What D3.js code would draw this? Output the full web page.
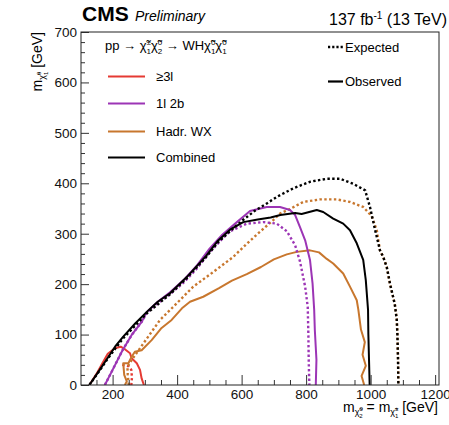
<!DOCTYPE html>
<html><head><meta charset="utf-8">
<script src="https://cdn.jsdelivr.net/npm/d3@7"></script>
<style>body{margin:0;background:#fff;} text{font-family:"Liberation Sans",Arial,sans-serif;}</style>
</head><body><svg id="c" width="449" height="425"></svg>
<script>
// ---- data (GeV) ----
const xTicks = [200, 400, 600, 800, 1000, 1200];
const yTicks = [0, 100, 200, 300, 400, 500, 600, 700];
const legendLabels = ["≥3l", "1l 2b", "Hadr. WX", "Combined"];
const seriesColors = ["#e53a33", "#9c35b5", "#c8772e", "#000000"];

const obs3l = [[128,0],[150,22],[170,45],[185,62],[207,73],[225,76],[240,70],[254,63],[259,53],[275,43],[285,30],[290,13],[297,0]];
const exp3l = [[230,40],[250,37],[258,30],[260,15],[258,0]];

const obs1l2b = [[176,0],[200,30],[230,68],[260,100],[290,125],[306,145],[340,165],[378,184],[420,208],[460,236],[500,270],[540,298],[580,320],[626,345],[678,353],[719,353],[750,347],[766,337],[781,313],[797,287],[812,248],[820,201],[825,149],[827,109],[832,50],[830,0]];
const exp1l2b = [[176,0],[200,30],[230,68],[260,100],[290,125],[306,143],[340,162],[378,180],[420,203],[460,230],[500,262],[540,290],[564,305],[616,320],[668,323],[709,320],[740,305],[766,277],[781,245],[797,195],[805,155],[807,100],[808,50],[810,0]];

const obsWX = [[238,0],[244,7],[236,20],[233,43],[249,43],[259,56],[269,66],[290,69],[321,89],[350,112],[383,129],[415,152],[440,165],[481,175],[530,192],[570,207],[616,220],[660,234],[700,249],[740,259],[771,264],[812,267],[840,263],[864,250],[884,241],[915,221],[936,195],[957,168],[962,149],[970,110],[982,85],[975,60],[985,38],[972,18],[980,0]];
const expWX = [[250,0],[247,20],[246,36],[265,55],[295,82],[347,129],[399,162],[450,195],[512,224],[574,254],[616,280],[650,300],[698,327],[719,340],[750,349],[791,363],[843,368],[895,368],[936,363],[977,353],[1003,335],[1019,307],[1029,267],[1039,254],[1050,234],[1060,201],[1075,160],[1081,130],[1083,100],[1085,50],[1086,0]];

const obsComb = [[128,0],[160,30],[187,56],[210,78],[233,96],[270,122],[306,145],[340,165],[378,182],[430,214],[490,256],[525,285],[564,308],[605,323],[650,328],[690,332],[720,337],[766,341],[786,339],[833,347],[853,343],[884,330],[915,320],[936,307],[957,281],[977,248],[985,208],[992,149],[993,100],[995,50],[997,0]];
const expComb = [[128,0],[160,29],[187,54],[233,93],[306,142],[378,180],[430,212],[490,254],[525,282],[564,305],[600,325],[640,345],[678,360],[709,373],[760,390],[812,403],[864,409],[905,409],[946,399],[983,386],[998,353],[1014,307],[1029,267],[1039,254],[1050,234],[1060,201],[1075,160],[1081,130],[1083,100],[1085,50],[1086,0]];

// ---- drawing ----
const svg = d3.select("#c");
const L = 81, R = 439, T = 32, B = 385;
const x = d3.scaleLinear().domain([102, 1212]).range([L, R]);
const y = d3.scaleLinear().domain([0, 700]).range([B, T]);

svg.append("clipPath").attr("id","clip").append("rect").attr("x",L).attr("y",T).attr("width",R-L).attr("height",B-T);

const line = d3.line().x(d => x(d[0])).y(d => y(d[1]));
const g = svg.append("g").attr("clip-path","url(#clip)");
const curves = [
  [exp3l, 0, true],[obs3l, 0, false],
  [expWX, 2, true],[obsWX, 2, false],
  [exp1l2b, 1, true],[obs1l2b, 1, false],
  [expComb, 3, true],[obsComb, 3, false]
];
curves.forEach(([d, ci, dotted]) => {
  g.append("path").attr("d", line(d)).attr("fill","none")
    .attr("stroke", seriesColors[ci])
    .attr("stroke-width", dotted ? 2.4 : 2)
    .attr("stroke-dasharray", dotted ? "2.4,2.4" : null)
    .attr("stroke-linejoin","round");
});

// axes
const minorX = d3.range(150, 1212, 50).filter(v => v % 200 !== 0);
const minorY = d3.range(0, 701, 20).filter(v => v % 100 !== 0);
function styleAxis(s){ s.select(".domain").remove(); s.selectAll("line").attr("stroke","#333"); s.selectAll("text").attr("font-size","13.5px").attr("fill","#111").style("font-family","Liberation Sans, Arial, sans-serif"); }
svg.append("g").attr("transform",`translate(0,${B})`).call(d3.axisBottom(x).tickValues(xTicks).tickSize(-10).tickPadding(4).tickFormat(d3.format("d"))).call(styleAxis);
svg.append("g").attr("transform",`translate(0,${B})`).call(d3.axisBottom(x).tickValues(minorX).tickSize(-5).tickFormat("")).call(styleAxis);
svg.append("g").attr("transform",`translate(${L},0)`).call(d3.axisLeft(y).tickValues(yTicks).tickSize(-8).tickPadding(4).tickFormat(d3.format("d"))).call(styleAxis);
svg.append("g").attr("transform",`translate(${L},0)`).call(d3.axisLeft(y).tickValues(minorY).tickSize(-4).tickFormat("")).call(styleAxis);
svg.append("rect").attr("x",L).attr("y",T).attr("width",R-L).attr("height",B-T).attr("fill","none").attr("stroke","#222").attr("stroke-width",1);

// rich text helper: parts = [text, fontSize|null, baselineOffset, dx]
function rich(t, parts) {
  let cur = 0;
  parts.forEach(([s, fs, off, dx]) => {
    const ts = t.append("tspan").text(s).attr("dy", off - cur);
    if (fs) ts.attr("font-size", fs);
    if (dx) ts.attr("dx", dx);
    cur = off;
  });
}
function chiParts(sup, sub, size) {
  const s = size * 0.62;
  return [["χ̃", null, 0, 0], [sup, s, -size*0.42, 0], [sub, s, size*0.28, -s*0.56]];
}
function chiSmall(sup, sub, base) {
  return [["χ̃", 9, base + 3, 0], [sup, 6, base - 1, 0], [sub, 6, base + 6, -3.4]];
}

// header
svg.append("text").attr("x",82).attr("y",21).attr("font-size",21).attr("font-weight","bold").text("CMS");
svg.append("text").attr("x",135).attr("y",21).attr("font-size",14).attr("font-style","italic").text("Preliminary");
const lumi = svg.append("text").attr("x",447).attr("y",25).attr("font-size",16).attr("text-anchor","end");
rich(lumi, [["137 fb", null, 0, 0], ["-1", 10, -6, 0], [" (13 TeV)", null, 0, 0]]);

// legend title
const lt = svg.append("text").attr("x",105).attr("y",50).attr("font-size",13);
rich(lt, [["pp → ", null, 0, 0]].concat(chiParts("±","1",13), chiParts("0","2",13),
  [[" → WH", null, 0, 0]], chiParts("0","1",13), chiParts("0","1",13)));

const ly = [76.5, 103.5, 131.5, 157.5];
legendLabels.forEach((lab, i) => {
  svg.append("line").attr("x1",108).attr("x2",145).attr("y1",ly[i]).attr("y2",ly[i]).attr("stroke",seriesColors[i]).attr("stroke-width",2);
  svg.append("text").attr("x",156).attr("y",ly[i]+4.5).attr("font-size",13).text(lab);
});
svg.append("line").attr("x1",328).attr("x2",343).attr("y1",47).attr("y2",47).attr("stroke","#000").attr("stroke-width",2.4).attr("stroke-dasharray","2.2,2");
svg.append("text").attr("x",345).attr("y",51.5).attr("font-size",13).text("Expected");
svg.append("line").attr("x1",328).attr("x2",343).attr("y1",81.5).attr("y2",81.5).attr("stroke","#000").attr("stroke-width",2.2);
svg.append("text").attr("x",345).attr("y",86).attr("font-size",13).text("Observed");

// x label
const xl = svg.append("text").attr("x",438).attr("y",412).attr("font-size",14).attr("text-anchor","end");
rich(xl, [["m", null, 0, 0]].concat(chiSmall("0","2",0), [[" = m", null, 0, 0]], chiSmall("±","1",0), [[" [GeV]", null, 0, 0]]));

// y label
const yl = svg.append("text").attr("transform","translate(42,32) rotate(-90)").attr("font-size",14).attr("text-anchor","end");
rich(yl, [["m", null, 0, 0]].concat(chiSmall("0","1",0), [[" [GeV]", null, 0, 0]]));
</script></body></html>
